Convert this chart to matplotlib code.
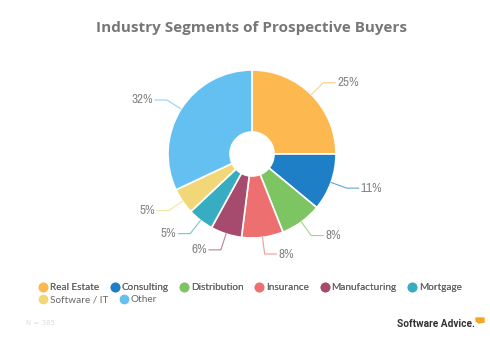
import numpy as np
import matplotlib
matplotlib.use("Agg")
import matplotlib.pyplot as plt
from matplotlib.lines import Line2D
from matplotlib.patches import Polygon
from matplotlib import font_manager as fm

categories = ["Real Estate", "Consulting", "Distribution", "Insurance",
              "Manufacturing", "Mortgage", "Software / IT", "Other"]
values = [25, 11, 8, 8, 6, 5, 5, 32]
labels = ["25%", "11%", "8%", "8%", "6%", "5%", "5%", "32%"]
colors = ["#FDB94F", "#1E7FC6", "#7DC462", "#EE6F6F", "#A64A6E",
          "#38ADC1", "#F2D779", "#65C0F2"]

W, H = 490, 362
fig = plt.figure(figsize=(W / 100, H / 100), dpi=100)
fig.patch.set_facecolor("white")
ax = fig.add_axes([0, 0, 1, 1])

cx, cy, R = 252, H - 154, 84
wedges, _ = ax.pie(values, colors=colors, startangle=90, counterclock=False,
                   center=(cx, cy), radius=R, frame=True,
                   wedgeprops=dict(width=R - 22, edgecolor="white", linewidth=1.2))
ax.set_xlim(0, W)
ax.set_ylim(0, H)
ax.set_aspect("equal")
ax.axis("off")

names = sorted({f.name for f in fm.fontManager.ttflist})
narrow = [n for n in names if "Narrow" in n or "Condensed" in n]
label_font = narrow[:1] + ["DejaVu Sans"]

for w, lab, col in zip(wedges, labels, colors):
    ang = np.deg2rad((w.theta1 + w.theta2) / 2)
    x0, y0 = cx + R * np.cos(ang), cy + R * np.sin(ang)
    re = R * 1.2
    xe, ye = cx + re * np.cos(ang), cy + re * np.sin(ang)
    side = 1 if np.cos(ang) >= 0 else -1
    xh = xe + side * 12
    ax.plot([x0, xe, xh], [y0, ye, ye], color=col, lw=0.8, alpha=0.7,
            solid_capstyle="round")
    ax.text(xh + side * 2, ye, lab, ha="left" if side > 0 else "right",
            va="center", fontsize=9.5, color="#858585", family=label_font,
            fontstretch="condensed")

fig.text(251 / W, 1 - 28 / H, "Industry Segments of Prospective Buyers",
         ha="center", va="center", fontsize=11, fontweight="bold",
         color="#777777", family=["Open Sans", "DejaVu Sans"])

def make_handles(cats, cols):
    return [Line2D([], [], marker="o", linestyle="", markersize=6,
                   markerfacecolor=c, markeredgecolor=c, label=n)
            for n, c in zip(cats, cols)]

leg_kw = dict(frameon=False, labelcolor="#666666",
              handletextpad=0.05, columnspacing=1.0, borderaxespad=0,
              borderpad=0, handlelength=1.2, loc="center left",
              prop={"family": ["Lato", "DejaVu Sans"], "size": 7.2})
leg1 = fig.legend(handles=make_handles(categories[:6], colors[:6]), ncol=6,
                  bbox_to_anchor=(37 / W, 1 - 288 / H), **leg_kw)
fig.add_artist(leg1)
leg2 = fig.legend(handles=make_handles(categories[6:], colors[6:]), ncol=2,
                  bbox_to_anchor=(37 / W, 1 - 300 / H), **leg_kw)

fig.text(26 / W, 1 - 323 / H, "N = 385", ha="left", va="center",
         fontsize=5, color="#dddddd")
fig.text(475 / W, 1 - 324 / H, "Software Advice.", ha="right", va="center",
         fontsize=7.3, fontweight="bold", color="#333333",
         family=["Roboto", "DejaVu Sans"])
ax.add_patch(Polygon([[476, H - 318], [484, H - 318], [484, H - 322],
                      [479, H - 323], [476, H - 321]], closed=True,
                     color="#F5A623"))

fig.savefig("out.png", dpi=100)
